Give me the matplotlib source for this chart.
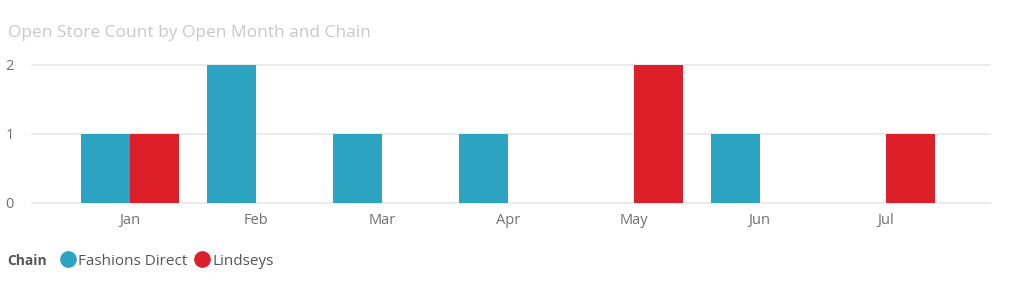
import numpy as np
import matplotlib
matplotlib.use("Agg")
from matplotlib import pyplot as plt
from matplotlib.lines import Line2D

months = ["Jan", "Feb", "Mar", "Apr", "May", "Jun", "Jul"]
fashions_direct = [1, 2, 1, 1, 0, 1, 0]
lindseys = [1, 0, 0, 0, 2, 0, 1]
chains = ["Fashions Direct", "Lindseys"]

blue = "#2CA3C0"
red = "#DC1F28"
plt.rcParams['font.family'] = ['Open Sans', 'DejaVu Sans']

fig = plt.figure(figsize=(10.13, 3.01), dpi=100)
ax = fig.add_axes([0.0316, 0.3256, 0.9457, 0.4585])

x = np.arange(len(months))
w = 0.39
ax.bar(x - w / 2, fashions_direct, w, color=blue, zorder=3)
ax.bar(x + w / 2, lindseys, w, color=red, zorder=3)

ax.set_xlim(-0.78, 6.83)
ax.set_ylim(0, 2)
ax.set_yticks([0, 1, 2])
ax.set_xticks(x)
ax.set_xticklabels(months)
for s in ax.spines.values():
    s.set_visible(False)
ax.grid(axis="y", color="#E8E8E8", linewidth=1.2, zorder=0)
for gl in ax.get_ygridlines():
    gl.set_clip_on(False)
ax.tick_params(length=0, labelsize=10.5, labelcolor="#707070")
ax.tick_params(axis="y", pad=13)
ax.tick_params(axis="x", pad=7)

fig.text(0.008, 0.89, "Open Store Count by Open Month and Chain",
         fontsize=12.5, color="#C8C8C8", va="center")

fig.text(0.007, 0.132, "Chain", fontsize=10, color="#555555",
         fontweight="bold", va="center")
handles = [Line2D([], [], marker="o", linestyle="", markersize=11, color=c)
           for c in (blue, red)]
fig.legend(handles, chains, loc="center left", bbox_to_anchor=(0.051, 0.132),
           frameon=False, handletextpad=0.1, columnspacing=0.45,
           ncol=2, fontsize=11, labelcolor="#555555", borderpad=0,
           handlelength=1.1)

fig.savefig("out.png", dpi=100)
